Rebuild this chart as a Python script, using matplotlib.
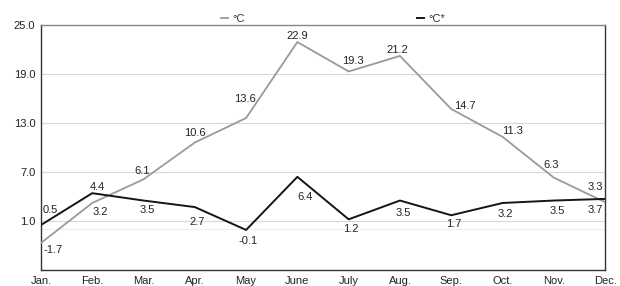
import matplotlib
matplotlib.use("Agg")
import matplotlib.pyplot as plt

months = ["Jan.", "Feb.", "Mar.", "Apr.", "May", "June", "July",
          "Aug.", "Sep.", "Oct.", "Nov.", "Dec."]
temp_c = [-1.7, 3.2, 6.1, 10.6, 13.6, 22.9, 19.3, 21.2, 14.7, 11.3, 6.3, 3.3]
temp_c2 = [0.5, 4.4, 3.5, 2.7, -0.1, 6.4, 1.2, 3.5, 1.7, 3.2, 3.5, 3.7]
yticks = [1.0, 7.0, 13.0, 19.0, 25.0]

# label offsets in pixels (dx, dy up), picked by eye
off_c = [(12, -7), (8, -9), (-1, 8), (0, 10), (-1, 19), (0, 6),
         (4, 10), (-3, 6), (14, 3), (10, 6), (-3, 13), (-10, 15)]
off_c2 = [(9, 15), (5, 6), (4, -9), (2, -15), (2, -11), (8, -20),
          (2, -10), (3, -12), (3, -9), (3, -11), (3, -10), (-10, -11)]

plt.rcParams['font.family'] = ['Liberation Sans', 'DejaVu Sans']

fig = plt.figure(figsize=(6.2, 2.86), dpi=100)
ax = fig.add_axes([0.066, 0.056, 0.91, 0.857])

x = list(range(len(months)))
l1, = ax.plot(x, temp_c, color='#9a9a9a', lw=1.3, label='°C', zorder=3)
l2, = ax.plot(x, temp_c2, color='#151515', lw=1.4, label='°C*', zorder=4)

for i in x:
    dx, dy = off_c[i]
    ax.annotate(f"{temp_c[i]:.1f}", (i, temp_c[i]), xytext=(dx, dy),
                textcoords='offset pixels', ha='center', va='center',
                fontsize=8, color='#222222', zorder=5)
    dx, dy = off_c2[i]
    ax.annotate(f"{temp_c2[i]:.1f}", (i, temp_c2[i]), xytext=(dx, dy),
                textcoords='offset pixels', ha='center', va='center',
                fontsize=8, color='#222222', zorder=5)

ax.set_xlim(0, 11)
ax.set_ylim(-5, 25)
ax.set_xticks(x)
ax.set_xticklabels(months)
ax.set_yticks(yticks)
ax.set_yticklabels([f"{v:.1f}" for v in yticks])
ax.tick_params(length=0, labelsize=8, colors='#222222', pad=4)
ax.grid(axis='y', color='#d8d8d8', lw=0.8)
ax.axhline(0, color='#efefef', lw=0.8, zorder=1)

for s in ['left', 'bottom', 'right']:
    ax.spines[s].set_color('#333333')
    ax.spines[s].set_linewidth(1.0)
ax.spines['top'].set_color('#888888')
ax.spines['top'].set_linewidth(1.0)

ax.legend(handles=[l1, l2], loc='lower center', bbox_to_anchor=(0.518, 0.975),
          ncol=2, frameon=False, fontsize=8, handlelength=0.6,
          handletextpad=0.4, columnspacing=15.5, borderpad=0.1,
          labelcolor='#333333')

fig.savefig("out.png", dpi=100)
